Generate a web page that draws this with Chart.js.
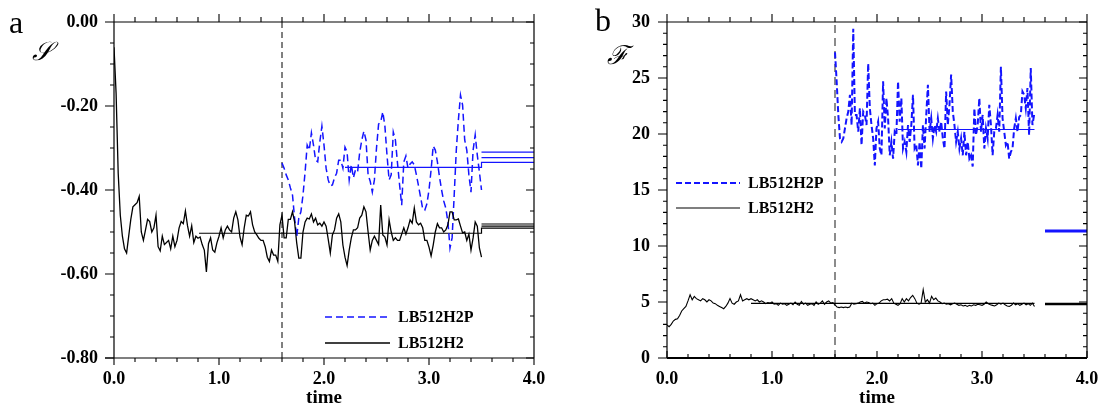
<!DOCTYPE html>
<html>
<head>
<meta charset="utf-8">
<script src="https://cdn.jsdelivr.net/npm/chart.js@4/dist/chart.umd.min.js"></script>
<style>
  html, body { margin: 0; padding: 0; background: #fff; }
  #wrap { position: relative; width: 1099px; height: 412px; overflow: hidden; }
  .panel { position: absolute; top: 0; height: 412px; }
  .tag { position: absolute; font-family: 'Liberation Serif', serif; font-size: 32px; line-height: 1; color: #000; }
  .sym { position: absolute; font-family: 'DejaVu Serif', 'Liberation Serif', serif; font-style: italic; font-size: 26px; line-height: 1; color: #000; }
</style>
</head>
<body>
<div id="wrap">
  <div class="panel" style="left:0;width:550px"><canvas id="chartA"></canvas></div>
  <div class="panel" style="left:550px;width:549px"><canvas id="chartB"></canvas></div>
  <div class="tag" style="left:9px;top:6px">a</div>
  <div class="sym" style="left:32px;top:38px">𝒮</div>
  <div class="tag" style="left:595px;top:4px">b</div>
  <div class="sym" style="left:607px;top:42px">ℱ</div>
</div>
<script>
// time samples: series start and spacing
const stepA = 0.02;
const blueStart = 1.6;
const stepBlueB = 0.0158;
const splitTime = 1.6;

// panel a: S for LB512H2 (t = 0 .. 3.5)
const sBlack = [
  -0.06, -0.17, -0.36, -0.46, -0.51, -0.54, -0.55, -0.51, -0.47, -0.44,
  -0.435, -0.43, -0.415, -0.50, -0.52, -0.495, -0.47, -0.475, -0.50, -0.49,
  -0.46, -0.535, -0.545, -0.51, -0.53, -0.525, -0.52, -0.54, -0.51, -0.535,
  -0.52, -0.49, -0.475, -0.48, -0.45, -0.485, -0.51, -0.485, -0.525, -0.51,
  -0.515, -0.512, -0.53, -0.543, -0.595, -0.528, -0.514, -0.543, -0.548, -0.526,
  -0.51, -0.49, -0.514, -0.495, -0.486, -0.495, -0.50, -0.467, -0.452, -0.471,
  -0.512, -0.53, -0.49, -0.46, -0.462, -0.452, -0.483, -0.50, -0.507, -0.515,
  -0.52, -0.52, -0.535, -0.56, -0.57, -0.543, -0.555, -0.555, -0.57, -0.483,
  -0.46, -0.514, -0.514, -0.47, -0.47, -0.452, -0.476, -0.526, -0.562, -0.562,
  -0.50, -0.476, -0.467, -0.469, -0.457, -0.476, -0.467, -0.483, -0.479, -0.486,
  -0.476, -0.486, -0.517, -0.55, -0.507, -0.495, -0.467, -0.457, -0.476, -0.531,
  -0.56, -0.58, -0.543, -0.514, -0.495, -0.495, -0.49, -0.467, -0.46, -0.44,
  -0.452, -0.50, -0.543, -0.52, -0.51, -0.52, -0.53, -0.436, -0.507, -0.512,
  -0.531, -0.471, -0.50, -0.52, -0.514, -0.52, -0.52, -0.505, -0.49, -0.505,
  -0.49, -0.471, -0.479, -0.443, -0.476, -0.483, -0.479, -0.49, -0.52, -0.52,
  -0.536, -0.557, -0.531, -0.50, -0.48, -0.49, -0.49, -0.50, -0.495, -0.483,
  -0.452, -0.452, -0.471, -0.471, -0.469, -0.486, -0.502, -0.50, -0.52, -0.505,
  -0.543, -0.514, -0.476, -0.486, -0.538, -0.56
];

// panel a: S for LB512H2P (t = 1.6 .. 3.5)
const sBlue = [
  -0.336, -0.348, -0.364, -0.376, -0.395, -0.412, -0.467, -0.512, -0.467, -0.452,
  -0.412, -0.357, -0.293, -0.305, -0.264, -0.293, -0.329, -0.333, -0.286, -0.248,
  -0.293, -0.348, -0.376, -0.39, -0.388, -0.371, -0.36, -0.329, -0.329, -0.348,
  -0.298, -0.31, -0.376, -0.34, -0.371, -0.352, -0.357, -0.31, -0.281, -0.26,
  -0.281, -0.364, -0.379, -0.405, -0.376, -0.30, -0.243, -0.238, -0.214, -0.248,
  -0.317, -0.376, -0.364, -0.262, -0.281, -0.336, -0.388, -0.436, -0.333, -0.319,
  -0.348, -0.338, -0.333, -0.34, -0.364, -0.39, -0.417, -0.445, -0.448, -0.433,
  -0.40, -0.352, -0.295, -0.305, -0.333, -0.369, -0.40, -0.426, -0.443, -0.476,
  -0.538, -0.514, -0.412, -0.305, -0.233, -0.174, -0.198, -0.281, -0.305, -0.364,
  -0.405, -0.305, -0.269, -0.317, -0.357, -0.40
];

// panel a: averages
const meanBlueTA = [2.2, 3.5, 3.5, 4.0];
const meanBlueSA = [-0.346, -0.346, -0.334, -0.334];
const meanBlackTA = [0.81, 3.5, 3.5, 4.0];
const meanBlackSA = [-0.503, -0.503, -0.491, -0.491];
const sideT = [3.5, 4.0];
const sideBlueA = [-0.31, -0.323];
const sideBlackA = [-0.481, -0.486];

// panel b: F for LB512H2 (t = 0 .. 3.5)
const fBlack = [
  2.95, 2.8, 3.0, 3.3, 3.45, 3.5, 3.8, 4.2, 4.4, 4.6,
  5.1, 5.65, 5.2, 5.5, 5.3, 5.2, 5.1, 5.3, 5.2, 5.0,
  5.2, 5.1, 4.9, 4.85, 4.7, 4.6, 4.5, 4.4, 4.6, 4.9,
  5.3, 4.9, 4.8, 5.0, 5.1, 5.65, 5.1, 5.2, 5.3, 5.2,
  5.3, 5.2, 5.1, 5.2, 5.0, 5.1, 5.0, 4.85, 4.95, 4.9,
  5.0, 4.8, 4.85, 4.7, 4.9, 4.8, 4.85, 4.7, 4.8, 4.9,
  4.75, 5.0, 4.8, 4.7, 5.05, 4.8, 4.9, 4.7, 4.8, 4.85,
  4.7, 5.0, 4.8, 4.9, 5.1, 4.8, 5.0, 5.1, 4.9, 4.95,
  4.75, 4.55, 4.5, 4.55, 4.5, 4.55, 4.5, 4.55, 4.9, 4.8,
  4.85, 4.9, 5.0, 5.05, 4.9, 5.0, 4.95, 4.85, 4.9, 4.7,
  4.85, 4.9, 5.1, 5.2, 5.2, 5.25, 5.1, 5.3, 4.9, 4.8,
  4.7, 4.85, 5.3, 5.0, 5.3, 5.1, 5.4, 5.6, 5.3, 4.9,
  4.8, 4.9, 6.1, 5.0, 5.2, 4.9, 5.5, 5.2, 5.35, 5.1,
  5.0, 4.85, 4.9, 4.8, 4.85, 4.75, 4.85, 4.9, 4.8, 4.7,
  4.75, 4.65, 4.7, 4.6, 4.7, 4.65, 4.75, 4.7, 4.8, 4.75,
  4.7, 4.8, 5.0, 4.85, 4.75, 4.7, 4.65, 4.75, 4.9, 4.8,
  4.9, 4.75, 4.65, 4.6, 4.7, 4.9, 4.75, 4.85, 4.7, 4.8,
  4.9, 4.75, 4.85, 4.7, 4.9, 4.6
];

// panel b: F for LB512H2P (t = 1.6 .. 3.5)
const fBlue = [
  27.3, 24.7, 21.7, 19.6, 19.3, 19.6, 20.5, 21.4, 22.0, 23.5,
  20.8, 29.4, 21.7, 21.7, 20.2, 22.3, 19.0, 22.0, 21.7, 20.8,
  26.3, 22.3, 20.8, 19.6, 17.2, 20.5, 21.1, 18.7, 18.1, 24.7,
  20.5, 23.2, 21.4, 18.1, 19.3, 17.8, 20.2, 19.9, 24.7, 21.1,
  23.2, 18.7, 19.3, 18.4, 20.8, 19.3, 20.8, 23.5, 18.7, 19.0,
  17.2, 19.3, 16.9, 20.8, 18.7, 21.7, 24.4, 20.2, 21.4, 19.6,
  20.8, 20.2, 21.4, 20.2, 21.1, 19.6, 18.7, 23.8, 20.8, 22.6,
  25.3, 22.0, 20.8, 19.3, 20.2, 18.7, 19.6, 18.1, 20.2, 18.1,
  19.3, 17.8, 18.1, 17.1, 22.3, 19.9, 20.8, 23.2, 20.2, 21.7,
  18.7, 20.5, 19.6, 22.6, 20.8, 18.1, 20.2, 20.5, 21.7, 20.2,
  26.0, 21.4, 20.2, 19.0, 19.3, 17.8, 18.4, 18.7, 20.5, 21.4,
  20.2, 21.5, 21.7, 23.8, 23.5, 22.3, 24.1, 19.9, 25.9, 20.8,
  21.7
];

// panel b: averages
const meanBlueTB = [2.2, 3.5];
const meanBlueFB = [20.4, 20.4];
const meanBlackTB = [0.8, 3.5];
const meanBlackFB = [4.88, 4.88];
const farT = [3.6, 4.0];
const farBlueFB = [11.35, 11.35];
const farBlackFB = [4.82, 4.82];

const seriesNames = ['LB512H2P', 'LB512H2'];
const BLUE = '#1414ff';
const SERIF = "'Liberation Serif', 'Times New Roman', serif";

function sampled(start, step, vals) {
  return vals.map((v, i) => ({ x: start + i * step, y: v }));
}
function paired(ts, vs) {
  return ts.map((t, i) => ({ x: t, y: vs[i] }));
}
function line(data, color, width, dash, label) {
  return {
    label: label || '',
    data: data,
    borderColor: color,
    borderWidth: width,
    borderDash: dash || [],
    pointRadius: 0,
    tension: 0,
    fill: false
  };
}

// frame, ticks and legend drawn on the library's scales
const framePlugin = {
  id: 'frame',
  afterDatasetsDraw(chart, args, o) {
    const { ctx, chartArea: a, scales: { x, y } } = chart;
    ctx.save();
    ctx.strokeStyle = '#000';
    ctx.lineWidth = 1.2;
    ctx.beginPath();
    ctx.moveTo(a.left, a.top); ctx.lineTo(a.right, a.top);
    ctx.moveTo(a.left, a.top); ctx.lineTo(a.left, a.bottom);
    ctx.moveTo(a.right, a.top); ctx.lineTo(a.right, a.bottom);
    ctx.stroke();
    ctx.lineWidth = o.bottomWidth;
    ctx.beginPath();
    ctx.moveTo(a.left - (o.bottomIn ? 0 : 9), a.bottom); ctx.lineTo(a.right, a.bottom);
    ctx.stroke();

    ctx.lineWidth = 1.1;
    ctx.beginPath();
    const nx = Math.round((x.max - x.min) / o.xMinor);
    for (let i = 0; i <= nx; i++) {
      const v = x.min + i * o.xMinor;
      const px = x.getPixelForValue(v);
      const len = (i % o.xMajorEvery === 0) ? 8 : 5;
      ctx.moveTo(px, a.top); ctx.lineTo(px, a.top - len);
      const bl = o.bottomIn ? -len + 1 : len - 1;
      ctx.moveTo(px, a.bottom); ctx.lineTo(px, a.bottom + bl);
    }
    const ny = Math.round((y.max - y.min) / o.yMinor);
    for (let i = 0; i <= ny; i++) {
      const v = y.min + i * o.yMinor;
      const py = y.getPixelForValue(v);
      const major = i % o.yMajorEvery === 0;
      const len = major ? 9 : 4;
      ctx.moveTo(a.left, py); ctx.lineTo(a.left - len, py);
      ctx.moveTo(a.right, py); ctx.lineTo(a.right - (major ? 8 : 4), py);
    }
    ctx.stroke();

    // legend
    ctx.font = 'bold 16px ' + SERIF;
    ctx.textBaseline = 'middle';
    ctx.fillStyle = '#000';
    o.legend.rows.forEach((row, i) => {
      const ds = chart.data.datasets[row];
      const ly = o.legend.y + i * o.legend.gap;
      ctx.strokeStyle = ds.borderColor;
      ctx.lineWidth = ds.borderWidth;
      ctx.setLineDash(ds.borderDash);
      ctx.beginPath();
      ctx.moveTo(o.legend.x, ly); ctx.lineTo(o.legend.x + o.legend.len, ly);
      ctx.stroke();
      ctx.setLineDash([]);
      ctx.fillText(ds.label, o.legend.x + o.legend.len + 8, ly + 1);
    });
    ctx.restore();
  }
};

function makeOptions(cfg) {
  return {
    responsive: true,
    maintainAspectRatio: false,
    animation: false,
    layout: { padding: { top: 22, right: cfg.padRight, bottom: 0, left: 0 } },
    plugins: {
      legend: { display: false },
      tooltip: { enabled: false },
      frame: cfg.frame
    },
    scales: {
      x: {
        type: 'linear', min: 0, max: 4,
        grid: { display: false, drawTicks: false },
        border: { display: false },
        ticks: {
          stepSize: 1, padding: 11, color: '#000',
          font: { family: SERIF, size: 18, weight: 'bold' },
          callback: v => v.toFixed(1)
        },
        title: {
          display: true, text: 'time', color: '#000',
          font: { family: SERIF, size: 19, weight: 'bold' },
          padding: { top: 0, bottom: 3 }
        },
        afterFit(s) { s.height = 54; s.paddingLeft = 0; s.paddingRight = 0; }
      },
      y: {
        type: 'linear', min: cfg.yMin, max: cfg.yMax,
        grid: { display: false, drawTicks: false },
        border: { display: false },
        ticks: {
          stepSize: cfg.yStep, padding: cfg.yPad, color: '#000',
          font: { family: SERIF, size: 18, weight: 'bold' },
          callback: cfg.yFmt
        },
        afterFit(s) { s.width = cfg.yWidth; s.paddingTop = 0; s.paddingBottom = 0; }
      }
    }
  };
}

// panel a
new Chart(document.getElementById('chartA'), {
  type: 'line',
  data: {
    datasets: [
      line(sampled(0, stepA, sBlack), '#000', 1.3, [], seriesNames[1]),
      line(sampled(blueStart, stepA, sBlue), BLUE, 1.5, [7, 4], seriesNames[0]),
      line(paired(meanBlueTA, meanBlueSA), BLUE, 1.2),
      line(paired(sideT, [sideBlueA[0], sideBlueA[0]]), BLUE, 1.2),
      line(paired(sideT, [sideBlueA[1], sideBlueA[1]]), BLUE, 1.2),
      line(paired(meanBlackTA, meanBlackSA), '#000', 1.2),
      line(paired(sideT, [sideBlackA[0], sideBlackA[0]]), '#000', 1.2),
      line(paired(sideT, [sideBlackA[1], sideBlackA[1]]), '#000', 1.2),
      line(paired([splitTime, splitTime], [0, -0.8]), '#000', 1, [6, 4])
    ]
  },
  options: makeOptions({
    yMin: -0.8, yMax: 0, yStep: 0.2, yPad: 16, yWidth: 114, padRight: 16,
    yFmt: v => v.toFixed(2),
    frame: {
      xMinor: 0.2, xMajorEvery: 5, yMinor: 0.05, yMajorEvery: 4,
      bottomIn: false, bottomWidth: 1.2,
      legend: { x: 325, y: 317, gap: 26, len: 65, rows: [1, 0] }
    }
  }),
  plugins: [framePlugin]
});

// panel b
new Chart(document.getElementById('chartB'), {
  type: 'line',
  data: {
    datasets: [
      line(sampled(0, stepA, fBlack), '#000', 1.1, [], seriesNames[1]),
      line(sampled(blueStart, stepBlueB, fBlue), BLUE, 2, [6, 3], seriesNames[0]),
      line(paired(meanBlueTB, meanBlueFB), BLUE, 1.2),
      line(paired(meanBlackTB, meanBlackFB), '#000', 1.2),
      line(paired(farT, farBlueFB), BLUE, 3),
      line(paired(farT, farBlackFB), '#000', 2.5),
      line(paired([splitTime, splitTime], [0, 30]), '#666', 1.5, [8, 5])
    ]
  },
  options: makeOptions({
    yMin: 0, yMax: 30, yStep: 5, yPad: 17, yWidth: 117, padRight: 12,
    yFmt: v => String(v),
    frame: {
      xMinor: 0.2, xMajorEvery: 5, yMinor: 1, yMajorEvery: 5,
      bottomIn: true, bottomWidth: 2.2,
      legend: { x: 126, y: 183, gap: 25, len: 64, rows: [1, 0] }
    }
  }),
  plugins: [framePlugin]
});
</script>
</body>
</html>
